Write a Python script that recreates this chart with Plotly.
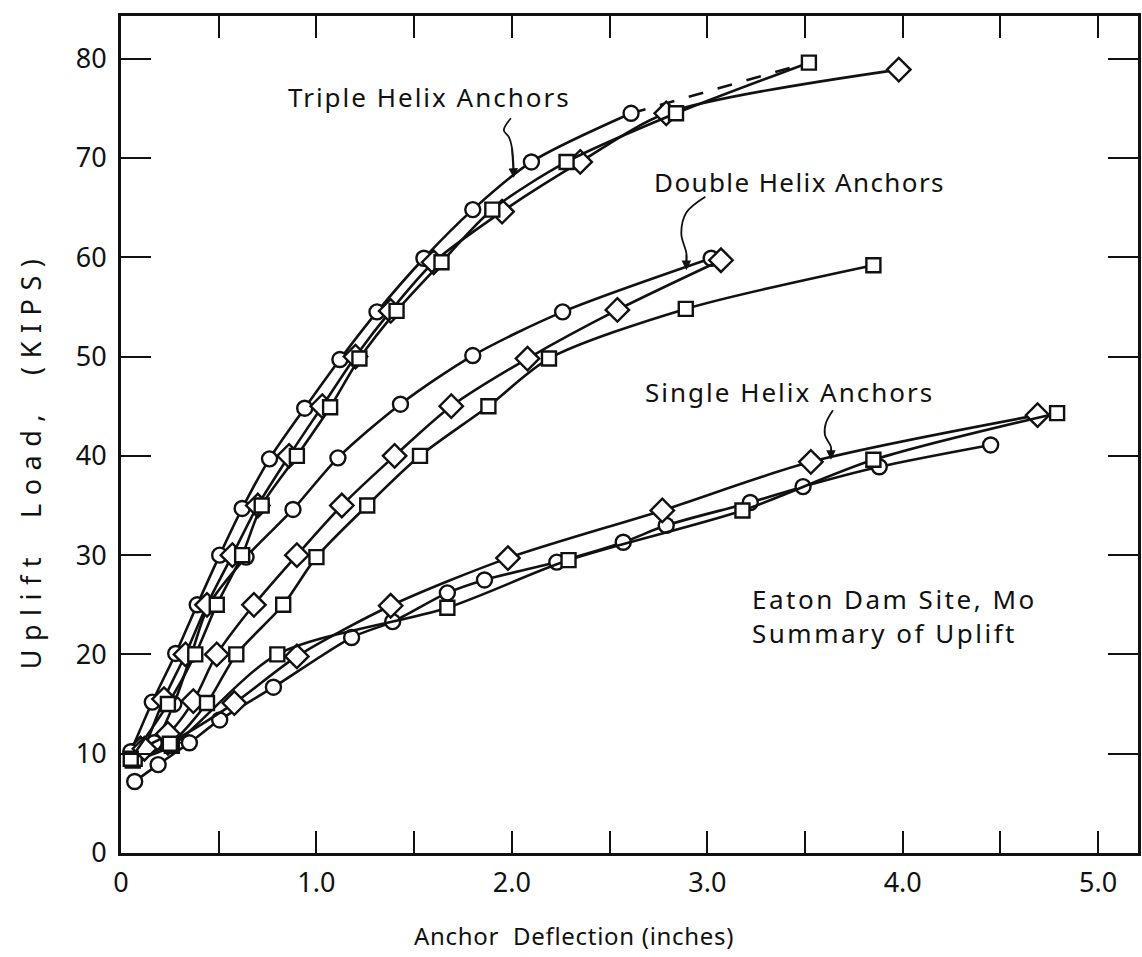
import plotly.graph_objects as go

# ---- measured load-deflection data (deflection in inches, load in kips) ----
triple_circle_x = [0.05, 0.16, 0.28, 0.39, 0.505, 0.62, 0.76, 0.94, 1.12, 1.31, 1.55, 1.80, 2.10, 2.61]
triple_circle_y = [10.2, 15.2, 20.1, 25.0, 30.0, 34.7, 39.7, 44.8, 49.7, 54.5, 59.9, 64.8, 69.6, 74.5]
triple_circle_ext_x = [2.61, 3.48]
triple_circle_ext_y = [74.5, 79.4]

triple_diamond_x = [0.12, 0.22, 0.33, 0.44, 0.57, 0.70, 0.86, 1.03, 1.20, 1.38, 1.60, 1.95, 2.35, 2.79, 3.98]
triple_diamond_y = [10.5, 15.5, 20.0, 25.0, 30.0, 35.0, 40.0, 45.0, 50.0, 54.6, 59.5, 64.6, 69.6, 74.5, 78.9]

triple_square_x = [0.05, 0.24, 0.38, 0.49, 0.62, 0.72, 0.90, 1.07, 1.22, 1.41, 1.64, 1.90, 2.28, 2.84, 3.52]
triple_square_y = [9.5, 15.0, 20.0, 25.0, 30.0, 35.0, 40.0, 44.9, 49.8, 54.6, 59.5, 64.8, 69.6, 74.5, 79.6]

double_circle_x = [0.06, 0.17, 0.27, 0.36, 0.45, 0.64, 0.88, 1.11, 1.43, 1.80, 2.26, 3.02]
double_circle_y = [10.2, 11.1, 15.0, 20.0, 25.0, 29.8, 34.6, 39.8, 45.2, 50.1, 54.5, 59.9]

double_diamond_x = [0.10, 0.24, 0.37, 0.49, 0.68, 0.90, 1.13, 1.40, 1.69, 2.08, 2.54, 3.07]
double_diamond_y = [10.5, 12.0, 15.3, 20.0, 25.0, 30.0, 35.0, 40.0, 45.0, 49.8, 54.7, 59.7]

double_square_x = [0.07, 0.25, 0.44, 0.59, 0.83, 1.00, 1.26, 1.53, 1.88, 2.19, 2.89, 3.85]
double_square_y = [9.5, 11.0, 15.1, 20.0, 25.0, 29.8, 35.0, 40.0, 45.0, 49.8, 54.8, 59.2]

single_circle_x = [0.07, 0.19, 0.35, 0.505, 0.78, 1.18, 1.39, 1.67, 1.86, 2.23, 2.57, 2.79, 3.22, 3.49, 3.88, 4.45]
single_circle_y = [7.2, 8.9, 11.1, 13.4, 16.7, 21.7, 23.3, 26.2, 27.5, 29.3, 31.3, 33.0, 35.3, 36.9, 38.9, 41.1]

single_diamond_x = [0.10, 0.24, 0.58, 0.90, 1.38, 1.98, 2.77, 3.53, 4.69]
single_diamond_y = [10.5, 11.1, 15.1, 19.8, 24.9, 29.7, 34.5, 39.4, 44.1]

single_square_x = [0.06, 0.26, 0.80, 1.67, 2.29, 3.18, 3.85, 4.79]
single_square_y = [9.3, 10.8, 20.0, 24.7, 29.5, 34.5, 39.6, 44.3]

# axis ticks
x_tick_vals = [0, 0.5, 1.0, 1.5, 2.0, 2.5, 3.0, 3.5, 4.0, 4.5, 5.0]
x_tick_text = ["0", "", "1.0", "", "2.0", "", "3.0", "", "4.0", "", "5.0"]
y_tick_vals = [0, 10, 20, 30, 40, 50, 60, 70, 80]
y_tick_text = ["0", "10", "20", "30", "40", "50", "60", "70", "80"]

# curly leader lines from each group label down to its curves
triple_leader_x = [1.995, 1.959, 1.985, 2.00, 2.01]
triple_leader_y = [74.0, 72.8, 72.1, 71.1, 68.6]
double_leader_x = [2.99, 2.893, 2.867, 2.893, 2.893]
double_leader_y = [66.1, 64.5, 62.4, 60.4, 59.3]
single_leader_x = [3.643, 3.607, 3.602, 3.633, 3.633]
single_leader_y = [44.6, 43.3, 42.1, 40.9, 40.2]

FONT = "Noto Sans"
INK = "#111111"


def spaced(text, px):
    """Wrap text in a span with extra letter spacing."""
    return f'<span style="letter-spacing:{px}px">{text}</span>'


fig = go.Figure()

marker_style = dict(color="white", line=dict(color=INK, width=2.4))


def add_series(xs, ys, symbol, size):
    fig.add_trace(go.Scatter(
        x=xs, y=ys, mode="lines+markers",
        line=dict(color=INK, width=2.6, shape="spline", smoothing=0.8),
        marker=dict(symbol=symbol, size=size, **marker_style),
        showlegend=False, hoverinfo="skip",
    ))


# dashed continuation of the triple-helix circle curve
fig.add_trace(go.Scatter(
    x=triple_circle_ext_x, y=triple_circle_ext_y, mode="lines",
    line=dict(color=INK, width=2.6, dash="longdash"),
    showlegend=False, hoverinfo="skip",
))

add_series(single_circle_x, single_circle_y, "circle", 15)
add_series(single_diamond_x, single_diamond_y, "diamond", 18)
add_series(single_square_x, single_square_y, "square", 14)
add_series(double_circle_x, double_circle_y, "circle", 15)
add_series(double_diamond_x, double_diamond_y, "diamond", 18)
add_series(double_square_x, double_square_y, "square", 14)
add_series(triple_circle_x, triple_circle_y, "circle", 15)
add_series(triple_diamond_x, triple_diamond_y, "diamond", 18)
add_series(triple_square_x, triple_square_y, "square", 14)

# leader lines with arrow tips
for lx, ly in [(triple_leader_x, triple_leader_y),
               (double_leader_x, double_leader_y),
               (single_leader_x, single_leader_y)]:
    fig.add_trace(go.Scatter(
        x=lx, y=ly, mode="lines",
        line=dict(color=INK, width=1.8, shape="spline"),
        showlegend=False, hoverinfo="skip",
    ))
    fig.add_annotation(
        x=lx[-1], y=ly[-1] - 0.6, ax=lx[-2], ay=ly[-2],
        xref="x", yref="y", axref="x", ayref="y",
        text="", showarrow=True, arrowhead=2, arrowsize=1.2,
        arrowwidth=1.6, arrowcolor=INK,
    )

label_font = dict(family=FONT, size=26, color=INK)
fig.add_annotation(x=1.58, y=76.1, text=spaced("Triple Helix Anchors", 2), showarrow=False,
                   xref="x", yref="y", font=label_font)
fig.add_annotation(x=3.47, y=67.6, text=spaced("Double Helix Anchors", 1.4), showarrow=False,
                   xref="x", yref="y", font=label_font)
fig.add_annotation(x=3.42, y=46.4, text=spaced("Single Helix Anchors", 2), showarrow=False,
                   xref="x", yref="y", font=label_font)
fig.add_annotation(x=3.22, y=23.9,
                   text=spaced("Eaton Dam Site, Mo", 2.5) + "<br>" + spaced("Summary of Uplift", 2.5),
                   showarrow=False, xref="x", yref="y", xanchor="left", align="left",
                   font=label_font)

# axis titles (positions given in pixels, converted to paper fractions below)
fig.add_annotation(x=575, y=935, xref="paper", yref="paper", showarrow=False,
                   xanchor="center", yanchor="middle",
                   text=spaced("Anchor  Deflection (inches)", 0.7),
                   font=dict(family=FONT, size=24, color=INK))
fig.add_annotation(x=30, y=460, xref="paper", yref="paper", showarrow=False,
                   xanchor="center", yanchor="middle",
                   textangle=-90, text=spaced("Uplift  Load,  (KIPS)", 8.5),
                   font=dict(family=FONT, size=27, color=INK))

axis_common = dict(
    showline=True, linecolor=INK, linewidth=3, mirror="ticks",
    ticks="inside", tickcolor=INK, tickwidth=2.2,
    showgrid=False, zeroline=False,
    tickfont=dict(family=FONT, size=27, color=INK),
)

fig.update_xaxes(
    range=[0, 5.204], tickvals=x_tick_vals, ticktext=x_tick_text,
    ticklen=22, ticklabelstandoff=4,
    **axis_common,
)
fig.update_yaxes(
    range=[0, 84.3], tickvals=y_tick_vals, ticktext=y_tick_text,
    ticklen=30, ticklabelstandoff=6,
    **axis_common,
)

fig.update_layout(
    width=1142, height=957, autosize=False,
    margin=dict(l=121, r=1, t=16, b=104),
    paper_bgcolor="white", plot_bgcolor="white",
    showlegend=False,
)

plot_w = 1142 - 121 - 1
plot_h = 957 - 16 - 104
for ann in fig.layout.annotations:
    if ann.xref == "paper":
        ann.x = (ann.x - 121) / plot_w
        ann.y = (957 - 104 - ann.y) / plot_h

fig.write_html("out.html")
